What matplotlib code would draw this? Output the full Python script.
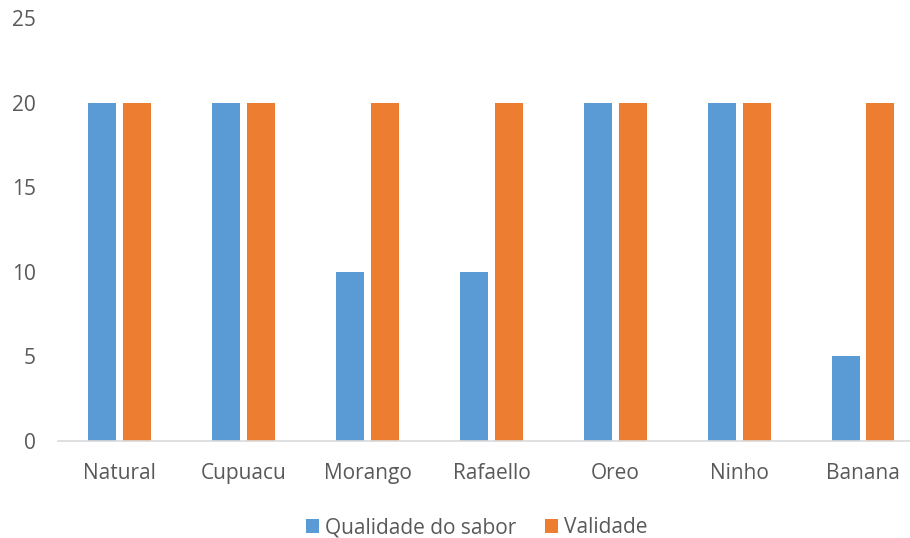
import numpy as np
import matplotlib.pyplot as plt

# --- Data ---
flavours = ["Natural", "Cupuacu", "Morango", "Rafaello", "Oreo", "Ninho", "Banana"]
qualidade = [20, 20, 10, 10, 20, 20, 5]
validade = [20, 20, 20, 20, 20, 20, 20]

plt.rcParams["font.family"] = ["Open Sans", "DejaVu Sans"]

fig = plt.figure(figsize=(9.1, 5.38), dpi=100)
# plot area runs slightly past the right edge, as in the reference crop
ax = fig.add_axes([0.0637, 0.1803, 0.9527, 0.786])

x = np.arange(len(flavours))
w = 0.226
gap = 0.056
ax.bar(x - (w + gap) / 2, qualidade, w, color="#5B9BD5", label="Qualidade do sabor")
ax.bar(x + (w + gap) / 2, validade, w, color="#ED7D31", label="Validade")

ax.set_xlim(-0.5, len(flavours) - 0.5)
ax.set_ylim(0, 25)
ax.set_yticks([0, 5, 10, 15, 20, 25])
ax.set_xticks(x)
ax.set_xticklabels(flavours)

for side in ["top", "right", "left"]:
    ax.spines[side].set_visible(False)
ax.spines["bottom"].set_color("#D9D9D9")
ax.spines["bottom"].set_linewidth(1.2)
ax.tick_params(axis="both", length=0, labelsize=15, colors="#595959")
ax.tick_params(axis="y", pad=16)
ax.tick_params(axis="x", pad=16)

fig.legend(*ax.get_legend_handles_labels(), loc="center", bbox_to_anchor=(0.524, 0.019),
           ncol=2, frameon=False, fontsize=15, handlelength=0.6, handleheight=0.6,
           columnspacing=1.4, handletextpad=0.3, labelcolor="#595959")

fig.savefig("out.png", dpi=100)
